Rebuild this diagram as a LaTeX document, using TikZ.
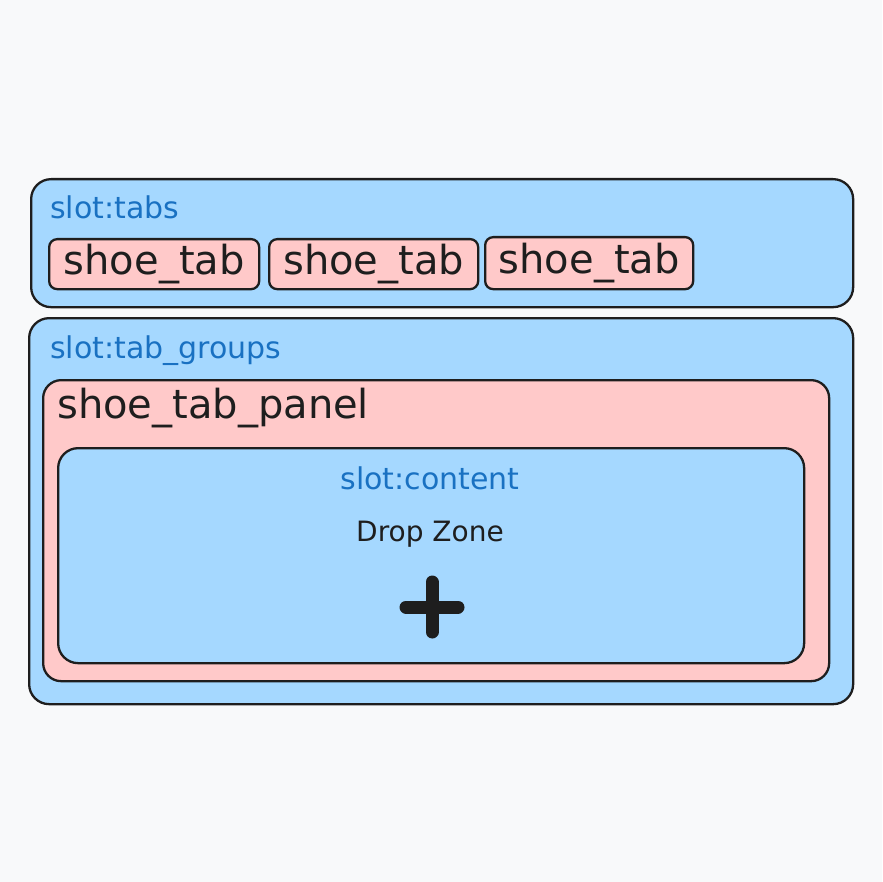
\documentclass[tikz,border=0pt]{standalone}
\usepackage{fontspec}
\setmainfont{DejaVu Sans}
\usepackage{tikz}
\usetikzlibrary{positioning}
\definecolor{bgpaper}{HTML}{F8F9FA}
\definecolor{slotblue}{HTML}{A5D8FF}
\definecolor{comppink}{HTML}{FFC9C9}
\definecolor{slottext}{HTML}{1971C2}
\definecolor{inkdark}{HTML}{1E1E1E}
\tikzset{
	slotbox/.style={draw=inkdark, fill=slotblue, line width=2.3pt, rounded corners=20pt, inner sep=0pt, anchor=north west},
	panelbox/.style={draw=inkdark, fill=comppink, line width=2.3pt, rounded corners=18pt, inner sep=0pt, anchor=north west},
	tabbox/.style={draw=inkdark, fill=comppink, line width=2.3pt, rounded corners=8pt, inner sep=0pt, anchor=north west, minimum height=50pt, text=inkdark, font=\fontsize{40}{44}\selectfont},
	slotlabel/.style={text=slottext, inner sep=0pt, font=\fontsize{30}{34}\selectfont},
	complabel/.style={text=inkdark, inner sep=0pt, font=\fontsize{40}{44}\selectfont},
}

\begin{document}
\begin{tikzpicture}[x=1pt, y=-1pt]
	\fill[bgpaper] (0,0) rectangle (882,882);
	\useasboundingbox (0,0) rectangle (882,882);
	% slot:tabs
	\node[slotbox, minimum width=822pt, minimum height=128pt] (tabs) at (30,178) {};
	\node[slotlabel, anchor=base west] (tabslbl) at (50,219) {slot:tabs};
	\node[tabbox, minimum width=210pt] (taba) at (48,238) {shoe\_tab};
	\node[tabbox, minimum width=209pt] (tabb) at (268,238) {shoe\_tab};
	\node[tabbox, minimum width=208pt, minimum height=52pt] (tabc) at (484,236) {shoe\_tab};
	% slot:tab_groups
	\node[slotbox, minimum width=824pt, minimum height=386pt] (groups) at (28,317) {};
	\node[slotlabel, anchor=base west] (groupslbl) at (50,358) {slot:tab\_groups};
	\node[panelbox, minimum width=786pt, minimum height=301pt] (panel) at (42,379) {};
	\node[complabel, anchor=base west] (panellbl) at (57,418) {shoe\_tab\_panel};
	% slot:content
	\node[slotbox, minimum width=746pt, minimum height=215pt] (content) at (57,447) {};
	\node[slotlabel, anchor=base] (contentlbl) at (430,489) {slot:content};
	\node[text=inkdark, inner sep=0pt, anchor=base, font=\fontsize{28}{32}\selectfont] (drop) at (430,541) {Drop Zone};
	\coordinate (plus) at (432,607);
	\draw[inkdark, line width=13pt, line cap=round] ([xshift=-26pt]plus) -- ([xshift=26pt]plus);
	\draw[inkdark, line width=13pt, line cap=round] ([yshift=25pt]plus) -- ([yshift=-25pt]plus);
\end{tikzpicture}
\end{document}
